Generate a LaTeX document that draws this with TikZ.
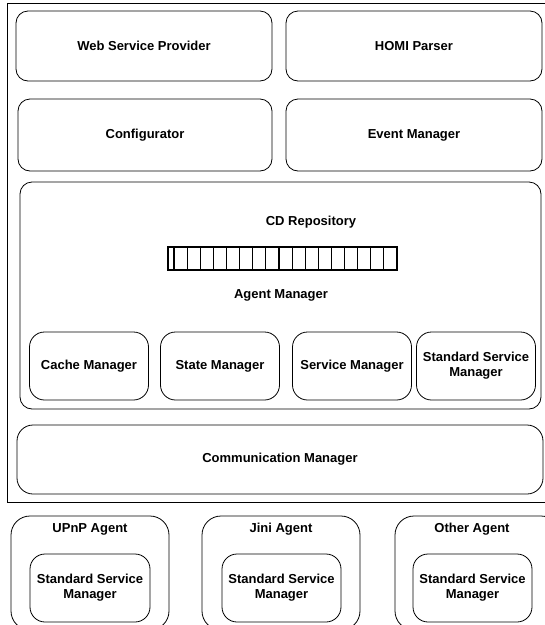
\documentclass[tikz,border=0pt]{standalone}
\usepackage{fontspec}
\setsansfont{Liberation Sans}
\begin{document}
\begin{tikzpicture}[x=1pt,y=-1pt,
  box/.style={draw, line width=0.8pt, rounded corners=12pt, align=center, inner sep=0pt,
    font=\sffamily\bfseries\fontsize{13}{15}\selectfont},
  smallbox/.style={box, rounded corners=15pt, minimum width=119pt, minimum height=68pt},
  agentbox/.style={box, rounded corners=19pt, minimum height=114pt},
  lbl/.style={inner sep=0pt, font=\sffamily\bfseries\fontsize{13}{15}\selectfont}]
  \useasboundingbox (0,0) rectangle (545,625);
  \clip (0,0) rectangle (545,625);
  % platform frame
  \draw[line width=0.8pt] (7,3) rectangle (550,502);
  \node[box, minimum width=256pt, minimum height=70pt] (wsp) at (144,46) {Web Service Provider};
  \node[box, minimum width=256pt, minimum height=70pt] (homi) at (414,46) {HOMI Parser};
  \node[box, minimum width=254pt, minimum height=72pt] (conf) at (145,135) {Configurator};
  \node[box, minimum width=256pt, minimum height=72pt] (event) at (414,135) {Event Manager};
  \node[box, minimum width=521pt, minimum height=227pt] (agentmgr) at (280.5,295.5) {};
  \node[lbl] (cdrepo) at (311,222) {CD Repository};
  \draw[line width=1.1pt] (168,247) rectangle (397,270);
  \foreach \i in {0,...,16}
    \draw[line width=1.1pt] ({174+13.12*\i},247) -- ++(0,23);
  \node[lbl] (agentlbl) at (281,295) {Agent Manager};
  \node[smallbox] (cache) at (89,366) {Cache Manager};
  \node[smallbox] (state) at (220,366) {State Manager};
  \node[smallbox] (service) at (352,366) {Service Manager};
  \node[smallbox] (ssm) at (476,366) {Standard Service\\Manager};
  \node[box, rounded corners=16pt, minimum width=526pt, minimum height=69pt] (comm) at (280,459.5) {Communication Manager};
  % agents
  \node[agentbox, minimum width=158pt] (upnp) at (90,573) {};
  \node[agentbox, minimum width=158pt] (jini) at (281,573) {};
  \node[agentbox, minimum width=165pt] (other) at (477.5,573) {};
  \node[lbl] at (90,529) {UPnP Agent};
  \node[lbl] at (281,529) {Jini Agent};
  \node[lbl] at (472,529) {Other Agent};
  \node[smallbox, minimum width=120pt] (ssmupnp) at (90,588) {Standard Service\\Manager};
  \node[smallbox] (ssmjini) at (281.5,588) {Standard Service\\Manager};
  \node[smallbox] (ssmother) at (472.5,588) {Standard Service\\Manager};
\end{tikzpicture}
\end{document}
